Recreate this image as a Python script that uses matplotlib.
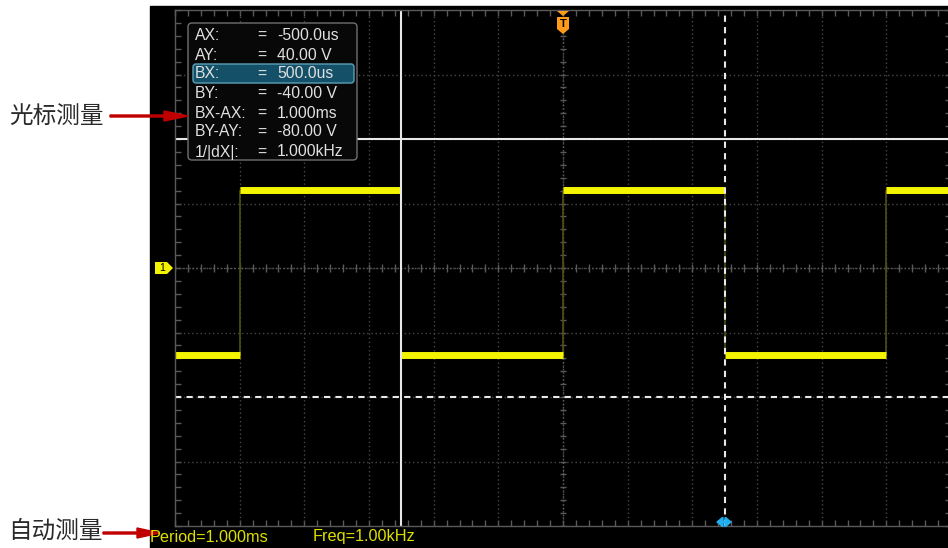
import matplotlib.pyplot as plt
from matplotlib.patches import Polygon, FancyBboxPatch, Rectangle
import numpy as np

W, H = 948, 548

# waveform: time in us, level in V (200us/div, 20V/div)
seg_start = [-1200, -1000, -500, 0, 500, 1000]
seg_end = [-1000, -500, 0, 500, 1000, 1200]
seg_volt = [-27.0, 24.3, -27.0, 24.3, -27.0, 24.3]
edge_t = [-1000, -500, 0, 500, 1000]

# cursors
cursor_ax, cursor_bx = -500, 500
cursor_ay, cursor_by = 40, -40

meas_labels = ["AX:", "AY:", "BX:", "BY:", "BX-AX:", "BY-AY:", "1/|dX|:"]
meas_values = ["-500.0us", "40.00 V", "500.0us", "-40.00 V", "1.000ms", "-80.00 V", "1.000kHz"]
auto_meas = ["Period=1.000ms", "Freq=1.00kHz"]
cn_labels = ["光标测量", "自动测量"]

plt.rcParams['font.family'] = ['Liberation Sans', 'DejaVu Sans']

fig = plt.figure(figsize=(W / 100, H / 100), dpi=100, facecolor='white')

# black screen behind the graticule
bg = fig.add_axes([0, 0, 1, 1], zorder=-1)
bg.set_xlim(0, W)
bg.set_ylim(H, 0)
bg.axis('off')
bg.add_patch(Rectangle((150, 6), W - 150, H - 6, color='black'))

# graticule
ax = fig.add_axes([175 / W, 22 / H, 776 / W, 516 / H])
ax.set_facecolor('black')
ax.set_xlim(-1200, 1200)
ax.set_ylim(-80, 80)
ax.set_xticks(np.arange(-1200, 1201, 200))
ax.set_xticks(np.arange(-1200, 1201, 40), minor=True)
ax.set_yticks(np.arange(-80, 81, 20))
ax.set_yticks(np.arange(-80, 81, 4), minor=True)
ax.tick_params(which='both', direction='in', length=4, width=1, color='#5a5a5a',
               top=True, right=True, labelbottom=False, labelleft=False)
for s in ax.spines.values():
    s.set_color('#5a5a5a')
    s.set_linewidth(1)

grid_c = '#474747'
ax.vlines(np.arange(-1000, 1001, 200), -80, 80, color=grid_c, lw=1, ls=(0, (1, 2)))
ax.hlines(np.arange(-60, 61, 20), -1200, 1200, color=grid_c, lw=1, ls=(0, (1, 2)))
# centre crosshair with ticks
ax.axhline(0, color='#5a5a5a', lw=1, ls=(0, (1, 1.5)))
ax.axvline(0, color='#5a5a5a', lw=1, ls=(0, (1, 1.5)))
ax.vlines(np.arange(-1200, 1201, 40), -1.1, 1.1, color='#5a5a5a', lw=1)
ax.hlines(np.arange(-80, 81, 4), -10.5, 10.5, color='#5a5a5a', lw=1)

# signal
ax.vlines(edge_t, min(seg_volt), max(seg_volt), color='#4f4f14', lw=1.2)
ax.hlines(seg_volt, seg_start, seg_end, color='#f4f400', lw=5)

# cursors
ax.axvline(cursor_ax, color='#e8e8e8', lw=1.5)
ax.axvline(cursor_bx, color='#e8e8e8', lw=1.5, ls=(0, (3, 2.5)))
ax.axhline(cursor_ay, color='#e8e8e8', lw=1.5)
ax.axhline(cursor_by, color='#e8e8e8', lw=1.5, ls=(0, (3, 2.5)))

# overlay in pixel coordinates
ov = fig.add_axes([0, 0, 1, 1], zorder=5)
ov.set_xlim(0, W)
ov.set_ylim(H, 0)
ov.axis('off')

ov.add_patch(FancyBboxPatch((190, 25), 165, 133, boxstyle='round,pad=2,rounding_size=4',
                            fc='#080808', ec='#707070', lw=1))
ov.add_patch(FancyBboxPatch((194, 65), 159, 17, boxstyle='round,pad=1,rounding_size=3',
                            fc='#145068', ec='#5aa0b8', lw=1))
row_y = [35, 55, 74, 93, 113, 132, 152]
for lab, val, y in zip(meas_labels, meas_values, row_y):
    ov.text(195, y, lab, color='#e0e0e0', fontsize=11.3, va='center', ha='left')
    ov.text(257, y, "=", color='#e0e0e0', fontsize=11.3, va='center', ha='left')
    ov.text(277, y, val, color='#e0e0e0', fontsize=11.3, va='center', ha='left')

# trigger marker
ov.add_patch(Polygon([(557, 11), (569, 11), (563, 16)], closed=True, fc='#ff9a1a', ec='none'))
ov.add_patch(Polygon([(557, 17), (569, 17), (569, 29), (563, 34), (557, 29)], closed=True,
                     fc='#ff9a1a', ec='none'))
ov.text(563, 24, "T", color='black', fontsize=8, fontweight='bold', ha='center', va='center')

# channel 1 marker
ov.add_patch(Polygon([(155, 262), (167, 262), (173, 268), (167, 274), (155, 274)], closed=True,
                     fc='#f4f400', ec='none'))
ov.text(162, 268, "1", color='black', fontsize=7.5, ha='center', va='center')

# horizontal position marker
ov.annotate('', xy=(716, 522), xytext=(732, 522),
            arrowprops=dict(arrowstyle='<|-|>,head_length=0.3,head_width=0.25', color='#20b0f0',
                            lw=1.5, shrinkA=0, shrinkB=0, mutation_scale=12))

# automatic measurements
ov.text(150, 537, auto_meas[0], color='#e0e000', fontsize=11.7, va='center', ha='left')
ov.text(313, 537, auto_meas[1], color='#e0e000', fontsize=11.7, va='center', ha='left')

# callouts
cn_font = ['Noto Sans CJK SC', 'DejaVu Sans']
ov.text(9, 116, cn_labels[0], family=cn_font, fontsize=17, color='#2a2a2a', va='center', ha='left')
ov.text(8, 531, cn_labels[1], family=cn_font, fontsize=17, color='#2a2a2a', va='center', ha='left')
ov.arrow(110, 116, 78, 0, width=2, head_width=10, head_length=24,
         length_includes_head=True, color='#c00000')
ov.arrow(103, 533, 57, 0, width=2, head_width=10, head_length=23,
         length_includes_head=True, color='#c00000')

fig.savefig('out.png', dpi=100, facecolor='white')
